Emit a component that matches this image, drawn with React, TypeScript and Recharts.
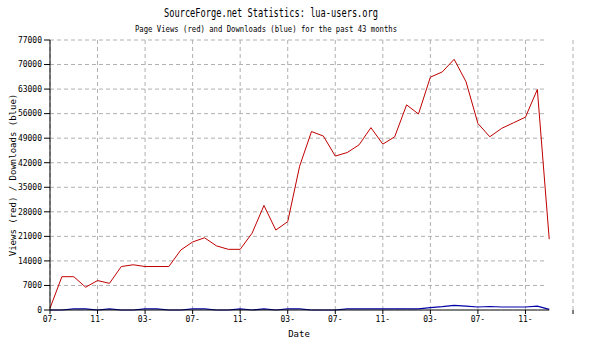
import { LineChart, Line, XAxis, YAxis, CartesianGrid, ReferenceLine } from 'recharts'

// 43 months, starting 07 (index 0)
const monthIndex = Array.from({ length: 43 }, (_, i) => i)

const pageViews = [
    500, 9500, 9500, 6500, 8400, 7600, 12400, 12900, 12400, 12400, 12400, 17100, 19400,
    20600, 18300, 17300, 17300, 21900, 29800, 22800, 25200, 41000, 50900, 49600, 43900,
    44900, 47100, 52000, 47300, 49400, 58500, 55900, 66400, 67900, 71500, 65100, 53200,
    49400, 51800, 53400, 55000, 62900, 20200
]

const downloads = [
    0, 0, 300, 300, 0, 300, 0, 0, 300, 300, 0, 0, 300, 300, 0, 0, 300, 0, 300, 0, 300,
    300, 0, 0, 0, 300, 300, 300, 300, 300, 300, 300, 700, 950, 1300, 1100, 850, 1000, 850,
    850, 850, 1100, 200
]

const xTicks = [0, 4, 8, 12, 16, 20, 24, 28, 32, 36, 40, 44]
const xTickLabels = ['07-', '11-', '03-', '07-', '11-', '03-', '07-', '11-', '03-', '07-', '11-', '']
const yTicks = [0, 7000, 14000, 21000, 28000, 35000, 42000, 49000, 56000, 63000, 70000, 77000]

const data = monthIndex.map((m, i) => ({ m, views: pageViews[i], downloads: downloads[i], base: 0 }))

const font = '"DejaVu Sans Mono", monospace'
const tickStyle = { fill: '#000', fontSize: 8, fontFamily: font }

export default function App() {
    return (
        <div style={{ position: 'relative', width: 600, height: 350, background: '#fff' }}>
            <style>{'body{margin:0}'}</style>
            <LineChart width={600} height={350} data={data} margin={{ top: 40, right: 27, bottom: 10, left: 0 }}>
                <CartesianGrid horizontal={false} stroke="#b0b0b0" strokeDasharray="4 3" />
                {yTicks.slice(1).map((v) => (
                    <ReferenceLine
                        key={v}
                        segment={[{ x: 0, y: v }, { x: 41.8, y: v }]}
                        stroke="#b0b0b0"
                        strokeDasharray="4 3"
                    />
                ))}
                <XAxis
                    dataKey="m"
                    type="number"
                    domain={[0, 44]}
                    ticks={xTicks}
                    tickFormatter={(v) => xTickLabels[xTicks.indexOf(v)]}
                    tick={tickStyle}
                    axisLine={false}
                    tickLine={{ stroke: '#000' }}
                    tickSize={4}
                    height={30}
                />
                <YAxis
                    domain={[0, 77000]}
                    ticks={yTicks}
                    tick={tickStyle}
                    axisLine={{ stroke: '#000' }}
                    tickLine={{ stroke: '#000' }}
                    tickSize={6}
                    width={50}
                    interval={0}
                />
                <Line
                    type="linear"
                    dataKey="views"
                    stroke="#c00000"
                    strokeWidth={1}
                    dot={false}
                    isAnimationActive={false}
                />
                <Line
                    type="linear"
                    dataKey="downloads"
                    stroke="#0000a8"
                    strokeWidth={1.2}
                    dot={false}
                    isAnimationActive={false}
                />
                {/* x axis line drawn over the downloads series */}
                <Line
                    type="linear"
                    dataKey="base"
                    stroke="#000"
                    strokeWidth={1}
                    dot={false}
                    isAnimationActive={false}
                />
            </LineChart>
            <svg width={600} height={350} style={{ position: 'absolute', left: 0, top: 0, pointerEvents: 'none' }}>
                <text x={271} y={17} textAnchor="middle" fontFamily={font} fontSize={12} textLength={214} lengthAdjust="spacingAndGlyphs">
                    SourceForge.net Statistics: lua-users.org
                </text>
                <text x={266} y={32} textAnchor="middle" fontFamily={font} fontSize={9} textLength={262} lengthAdjust="spacingAndGlyphs">
                    Page Views (red) and Downloads (blue) for the past 43 months
                </text>
                <text x={299} y={337} textAnchor="middle" fontFamily={font} fontSize={9}>
                    Date
                </text>
                <text
                    x={0}
                    y={0}
                    transform="translate(16,175) rotate(-90)"
                    textAnchor="middle"
                    fontFamily={font}
                    fontSize={9}
                >
                    Views (red) / Downloads (blue)
                </text>
            </svg>
        </div>
    )
}
